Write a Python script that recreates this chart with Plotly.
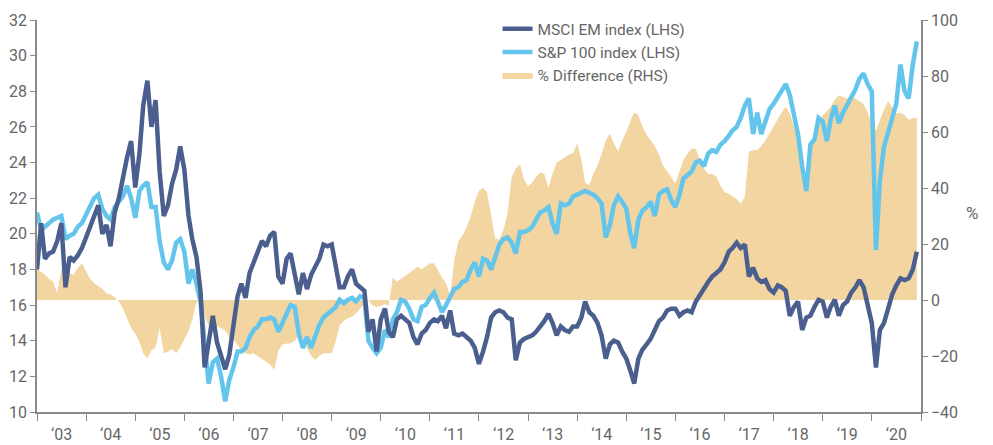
import pandas as pd
import plotly.graph_objects as go

# Monthly observations, Jan 2003 .. Dec 2020
dates = pd.date_range("2003-01-01", "2020-12-01", freq="MS")

msci_em = [
    18.0, 20.6, 18.6, 18.9, 19.0, 19.6, 20.6, 17.0, 18.7, 18.5, 18.8, 19.2,   # 2003
    19.8, 20.4, 21.0, 21.6, 20.0, 20.5, 19.3, 21.2, 22.0, 23.3, 24.3, 25.2,   # 2004
    22.6, 24.5, 27.2, 28.6, 26.0, 27.5, 23.5, 21.0, 21.6, 22.8, 23.6, 24.9,   # 2005
    23.6, 21.0, 19.7, 18.7, 16.8, 12.5, 14.0, 15.4, 13.9, 13.2, 12.4, 13.2,   # 2006
    14.8, 16.5, 17.2, 16.4, 17.8, 18.4, 19.1, 19.6, 19.3, 19.9, 20.1, 17.6,   # 2007
    17.2, 18.6, 18.9, 17.8, 16.6, 17.8, 16.9, 17.7, 18.1, 18.6, 19.4, 19.3,   # 2008
    19.4, 18.0, 17.0, 17.0, 17.6, 18.0, 17.2, 17.0, 16.8, 14.5, 15.2, 13.4,   # 2009
    15.2, 15.8, 14.5, 14.2, 15.2, 15.4, 15.2, 15.0, 14.2, 13.8, 14.4, 14.6,   # 2010
    15.0, 15.2, 15.1, 15.4, 14.7, 15.7, 14.4, 14.3, 14.4, 14.2, 14.0, 13.6,   # 2011
    12.7, 13.4, 14.2, 15.3, 15.6, 15.7, 15.6, 15.3, 15.2, 12.9, 13.9, 14.1,   # 2012
    14.2, 14.3, 14.5, 14.8, 15.1, 15.5, 15.0, 14.3, 14.8, 14.6, 14.5, 14.8,   # 2013
    14.8, 15.3, 16.2, 15.6, 15.4, 15.0, 14.3, 13.0, 13.8, 14.0, 13.9, 13.4,   # 2014
    13.0, 12.3, 11.6, 13.0, 13.5, 13.8, 14.1, 14.6, 15.1, 15.3, 15.7, 15.8,   # 2015
    15.8, 15.4, 15.6, 15.7, 15.6, 16.2, 16.6, 17.0, 17.3, 17.6, 17.8, 18.0,   # 2016
    18.4, 19.0, 19.2, 19.5, 19.2, 19.4, 17.6, 18.1, 17.5, 17.3, 17.4, 16.9,   # 2017
    16.7, 17.1, 17.0, 16.8, 15.4, 15.9, 16.2, 14.6, 15.3, 15.4, 15.9, 16.3,   # 2018
    16.2, 15.3, 15.9, 16.3, 15.4, 16.0, 16.2, 16.7, 17.0, 17.4, 17.0, 16.0,   # 2019
    15.0, 12.5, 14.6, 15.0, 15.9, 16.6, 17.1, 17.5, 17.4, 17.5, 18.0, 19.0,   # 2020
]

sp100 = [
    21.2, 20.2, 20.4, 20.6, 20.8, 20.9, 21.0, 19.7, 19.9, 20.0, 20.4, 20.6,   # 2003
    21.1, 21.6, 22.0, 22.2, 21.4, 21.0, 20.8, 21.5, 21.8, 22.1, 22.7, 22.0,   # 2004
    20.9, 22.4, 22.7, 22.9, 21.5, 21.5, 19.6, 18.4, 18.0, 18.5, 19.5, 19.7,   # 2005
    19.0, 17.2, 18.0, 17.2, 16.2, 13.5, 11.6, 12.8, 13.0, 12.0, 10.6, 11.8,   # 2006
    12.5, 13.4, 13.4, 13.6, 14.2, 14.6, 14.8, 15.2, 15.2, 15.3, 15.2, 14.5,   # 2007
    15.0, 15.6, 16.0, 15.9, 14.4, 13.6, 14.2, 13.6, 14.3, 14.9, 15.3, 15.5,   # 2008
    15.7, 15.9, 16.3, 16.1, 16.3, 16.4, 16.2, 16.5, 16.4, 14.0, 13.6, 13.3,   # 2009
    13.6, 14.6, 14.2, 15.2, 15.6, 16.3, 16.2, 15.8, 15.2, 15.1, 15.9, 16.0,   # 2010
    16.4, 16.7, 16.2, 15.6, 16.0, 16.4, 16.9, 17.0, 17.3, 17.4, 18.0, 18.4,   # 2011
    17.6, 18.6, 18.5, 18.0, 18.8, 19.4, 19.7, 19.8, 19.5, 18.9, 20.1, 20.1,   # 2012
    20.2, 20.4, 20.8, 21.2, 21.3, 21.5, 20.6, 20.0, 21.7, 21.6, 21.7, 22.1,   # 2013
    22.2, 22.3, 22.4, 22.3, 22.2, 22.0, 21.7, 19.8, 20.5, 21.6, 22.1, 21.8,   # 2014
    21.4, 20.0, 19.2, 20.8, 21.3, 21.5, 21.8, 21.0, 22.2, 22.4, 22.5, 21.9,   # 2015
    21.5, 22.2, 23.1, 23.3, 23.5, 24.0, 24.1, 23.8, 24.5, 24.7, 24.6, 25.0,   # 2016
    25.2, 25.5, 25.8, 26.0, 26.5, 27.2, 27.6, 25.6, 26.8, 25.6, 26.4, 27.0,   # 2017
    27.3, 27.7, 28.1, 28.4, 27.8, 26.8, 25.6, 23.8, 22.4, 25.0, 25.3, 26.5,   # 2018
    26.3, 25.2, 26.4, 27.2, 26.2, 26.8, 27.2, 27.7, 28.1, 28.7, 29.0, 28.4,   # 2019
    28.0, 19.1, 23.0, 24.9, 25.8, 26.5, 27.3, 29.5, 28.0, 27.6, 29.5, 30.8,   # 2020
]

pct_diff = [
    11.0, 10.0, 9.2, 7.5, 6.5, 2.5, 11.0, 9.0, 9.5, 9.0, 11.5, 13.0,          # 2003
    10.0, 7.5, 6.0, 5.0, 4.0, 2.4, 2.0, 1.0, -0.5, -3.0, -6.5, -10.0,         # 2004
    -12.0, -15.0, -19.0, -20.8, -18.0, -17.0, -10.0, -19.0, -18.5, -17.5, -19.0, -17.0,  # 2005
    -14.0, -11.0, -7.0, -1.0, 1.5, -6.0, -9.0, -9.5, -9.5, -10.0, -11.0, -13.0,          # 2006
    -14.0, -16.0, -18.0, -19.0, -19.5, -19.0, -20.0, -21.0, -22.0, -23.0, -25.0, -18.0,  # 2007
    -16.0, -15.5, -15.5, -14.5, -13.0, -14.0, -17.0, -20.0, -21.4, -20.0, -19.0, -19.0,  # 2008
    -19.0, -14.5, -9.0, -7.5, -6.5, -6.0, -4.8, -3.0, -1.0, 0.0, -2.0, -2.5,             # 2009
    -2.0, -1.5, -2.0, 8.0, 6.5, 7.5, 8.5, 9.5, 10.7, 12.0, 11.0, 12.0,        # 2010
    13.0, 13.1, 10.5, 8.0, 6.0, 1.5, 14.0, 21.0, 23.0, 26.0, 30.0, 35.0,      # 2011
    39.0, 40.0, 38.5, 30.0, 22.0, 21.5, 25.0, 31.0, 44.0, 47.0, 48.5, 43.0,   # 2012
    40.5, 42.0, 44.0, 45.5, 45.0, 40.0, 45.0, 49.0, 50.0, 51.0, 52.0, 52.4,   # 2013
    56.0, 50.0, 42.0, 41.0, 45.0, 48.0, 52.0, 57.0, 59.5, 56.0, 53.0, 57.0,   # 2014
    60.0, 64.0, 67.0, 66.0, 62.0, 59.0, 57.0, 55.0, 52.0, 48.0, 46.0, 44.0,   # 2015
    41.7, 46.0, 50.0, 52.4, 54.0, 54.0, 50.0, 47.0, 45.0, 45.0, 44.0, 41.0,   # 2016
    38.5, 38.0, 37.0, 36.0, 34.5, 37.0, 53.0, 53.5, 53.6, 55.0, 57.0, 59.5,   # 2017
    62.0, 64.3, 67.0, 69.0, 66.7, 62.0, 58.0, 50.0, 44.0, 54.0, 58.0, 63.0,   # 2018
    66.0, 67.5, 69.0, 71.5, 73.0, 72.5, 72.0, 72.5, 72.0, 71.0, 70.0, 67.0,   # 2019
    63.0, 60.5, 64.5, 68.0, 71.0, 69.0, 66.7, 67.0, 66.0, 64.3, 65.0, 65.0,   # 2020
]

left_ticks = list(range(10, 33, 2))
right_ticks = list(range(-40, 101, 20))

FONT = "Roboto, Liberation Sans, sans-serif"
GREY = "#666666"
AXIS = "#8a8a8a"

fig = go.Figure()
# fill on the base axis (drawn underneath), lines on the overlaying axis
fig.add_trace(go.Scatter(
    x=dates, y=pct_diff, name="% Difference (RHS)", yaxis="y",
    mode="lines", line=dict(width=0, color="#f2d5a0"),
    fill="tozeroy", fillcolor="#f2d5a0", legendrank=3,
))
fig.add_trace(go.Scatter(
    x=dates, y=sp100, name="S&P 100 index (LHS)", yaxis="y2",
    mode="lines", line=dict(width=4.5, color="#63c5ec"), legendrank=2,
))
fig.add_trace(go.Scatter(
    x=dates, y=msci_em, name="MSCI EM index (LHS)", yaxis="y2",
    mode="lines", line=dict(width=4.5, color="#4b5f8e"), legendrank=1,
))

# the page body adds an 8px margin, so the figure is sized to fit the window
fig.update_layout(
    width=985, height=437,
    margin=dict(l=29, r=72, t=12, b=33, autoexpand=False),
    paper_bgcolor="white", plot_bgcolor="white",
    font=dict(family=FONT, size=16, color=GREY),
    showlegend=True,
    legend=dict(
        x=0.521, y=1.02, xanchor="left", yanchor="top",
        bgcolor="rgba(0,0,0,0)", font=dict(size=15.5, color=GREY),
        tracegroupgap=0, itemwidth=30,
    ),
    xaxis=dict(
        range=["2003-01-01", "2021-01-01"], type="date",
        dtick="M12", tick0="2003-01-01", tickformat="\u2018%y",
        ticklabelmode="period", ticks="outside", ticklen=7, tickcolor=AXIS,
        showline=True, linecolor=AXIS, linewidth=1.5, showgrid=False,
        zeroline=False, automargin=False,
    ),
    yaxis=dict(
        range=[-40, 100], tickvals=right_ticks, side="right",
        ticks="outside", ticklen=5, tickcolor=AXIS, showline=True,
        linecolor=AXIS, linewidth=1.5, showgrid=False, zeroline=False,
        automargin=False,
    ),
    yaxis2=dict(
        range=[10, 32], tickvals=left_ticks, overlaying="y", side="left",
        ticks="outside", ticklen=5, tickcolor=AXIS, showline=True,
        linecolor=AXIS, linewidth=1.5, showgrid=False, zeroline=False,
        automargin=False,
    ),
    annotations=[dict(
        text="%", x=1.067, y=0.508, xref="paper", yref="paper",
        showarrow=False, font=dict(size=17, color=GREY),
    )],
)

fig.write_html("out.html")
